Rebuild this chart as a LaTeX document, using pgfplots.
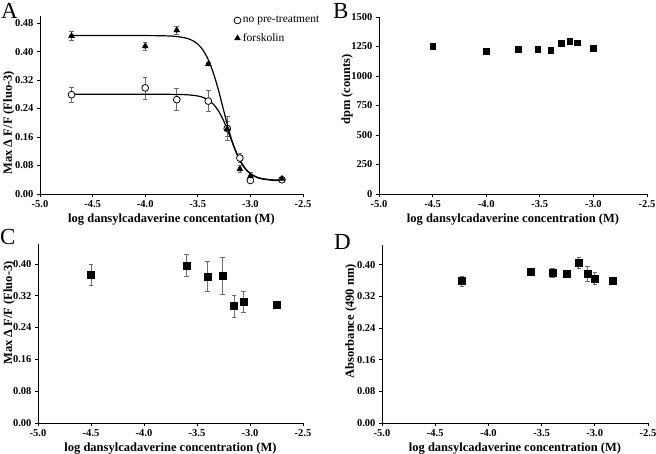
\documentclass[border=0pt]{standalone}
\usepackage{fontspec}
\setmainfont{Liberation Serif}
\usepackage{pgfplots}
\pgfplotsset{compat=1.18}
\definecolor{ebar}{RGB}{110,110,110}
\pgfplotsset{
  panel/.style={
    scale only axis,
    axis lines=left,
    axis line style={-, line width=0.9pt},
    tick align=outside,
    major tick length=3pt,
    tick style={black, line width=0.7pt},
    xmin=-5, xmax=-2.5, ymin=0,
    xtick={-5,-4.5,-4,-3.5,-3,-2.5},
    clip=false,
    /pgf/number format/assume math mode=true,
    tick label style={font=\fontsize{10.5}{12}\selectfont\bfseries},
    xticklabel style={/pgf/number format/fixed, /pgf/number format/fixed zerofill, /pgf/number format/precision=1},
    label style={font=\fontsize{12.5}{14}\selectfont\bfseries},
    xlabel={log dansylcadaverine concentration (M)},
    xlabel style={yshift=1pt},
  },
  frac/.style={
    yticklabel style={/pgf/number format/fixed, /pgf/number format/fixed zerofill, /pgf/number format/precision=2},
  },
  ebars/.style={only marks, mark=none, forget plot,
    error bars/.cd, y dir=both, y explicit,
    error bar style={ebar, line width=0.7pt},
    error mark options={ebar, rotate=90, mark size=2.3pt, line width=0.7pt}},
  sq/.style={only marks, mark=square*, mark size=3.5pt, mark options={fill=black, draw=black}},
}
\begin{document}
\begin{tikzpicture}
\useasboundingbox (0pt,0pt) rectangle (656pt,453pt);
% ---------------- A
\begin{axis}[panel, frac, at={(40pt,259pt)}, anchor=south west, width=263pt, height=178pt,
  ymax=0.5, ytick={0,0.08,0.16,0.24,0.32,0.40,0.48},
  xlabel={log dansylcadaverine concentation (M)},
  ylabel={Max Δ F/F (Fluo-3)},
  ylabel style={at={(axis description cs:-0.118,0.40)}, anchor=center},
  legend style={at={(1.07,1.01)}, anchor=north east, draw=none, fill=none,
    font=\fontsize{11.5}{13}\selectfont, row sep=5pt, inner sep=0pt},
  legend cell align=left]
\addplot[ebars] coordinates {
 (-4.7,0.279) +- (0,0.021) (-4.0,0.298) +- (0,0.031) (-3.7,0.265) +- (0,0.031)
 (-3.4,0.261) +- (0,0.029) (-3.22,0.184) +- (0,0.033) (-3.1,0.101) +- (0,0.012)
 (-3.0,0.038) +- (0,0.006) (-2.7,0.040) +- (0,0.003)};
\addplot[ebars] coordinates {
 (-4.7,0.444) +- (0,0.013) (-4.0,0.415) +- (0,0.011) (-3.7,0.460) +- (0,0.011)
 (-3.4,0.365) +- (0,0.004) (-3.22,0.183) +- (0,0.022) (-3.1,0.070) +- (0,0.010)
 (-3.0,0.050) +- (0,0.010) (-2.7,0.043) +- (0,0.003)};
\addplot[black, line width=1.2pt, smooth, forget plot] coordinates {
 (-4.7,0.280) (-4.0,0.280) (-3.8,0.280) (-3.7,0.2796) (-3.6,0.2787) (-3.5,0.2753)
 (-3.45,0.2713) (-3.4,0.2641) (-3.35,0.2517) (-3.3,0.2317) (-3.25,0.2026) (-3.2,0.1662)
 (-3.15,0.1284) (-3.1,0.0959) (-3.05,0.0723) (-3.0,0.0571) (-2.95,0.0481) (-2.9,0.043)
 (-2.8,0.0387) (-2.7,0.0375)};
\addplot[black, line width=1.2pt, smooth, forget plot] coordinates {
 (-4.7,0.445) (-4.0,0.445) (-3.8,0.4442) (-3.7,0.4425) (-3.6,0.437) (-3.55,0.431)
 (-3.5,0.421) (-3.45,0.404) (-3.4,0.377) (-3.35,0.338) (-3.3,0.288) (-3.25,0.230)
 (-3.2,0.174) (-3.15,0.1275) (-3.1,0.094) (-3.05,0.071) (-3.0,0.057) (-2.95,0.049)
 (-2.9,0.044) (-2.8,0.040) (-2.7,0.0386)};
\addplot[only marks, mark=*, mark size=3.4pt, mark options={fill=white, draw=black, line width=0.8pt}] coordinates {
 (-4.7,0.279) (-4.0,0.298) (-3.7,0.265) (-3.4,0.261) (-3.22,0.184) (-3.1,0.101) (-3.0,0.038) (-2.7,0.040)};
\addlegendentry{no pre-treatment}
\addplot[only marks, mark=triangle*, mark size=3.4pt, mark options={fill=black, draw=black}] coordinates {
 (-4.7,0.444) (-4.0,0.415) (-3.7,0.460) (-3.4,0.365) (-3.22,0.183) (-3.1,0.070) (-3.0,0.050) (-2.7,0.043)};
\addlegendentry{forskolin}
\end{axis}
% ---------------- B
\begin{axis}[panel, at={(379pt,259pt)}, anchor=south west, width=268pt, height=177pt,
  ymax=1500, ytick={0,250,500,750,1000,1250,1500},
  yticklabel style={/pgf/number format/set thousands separator={}},
  ylabel={dpm (counts)},
  ylabel style={at={(axis description cs:-0.119,0.59)}, anchor=center}]
\addplot[ebars] coordinates {
 (-4.5,1254) +- (0,8) (-4.0,1208) +- (0,8) (-3.7,1228) +- (0,25) (-3.52,1226) +- (0,8)
 (-3.4,1220) +- (0,20) (-3.3,1277) +- (0,8) (-3.22,1297) +- (0,8) (-3.15,1283) +- (0,8) (-3.0,1236) +- (0,22)};
\addplot[sq, mark size=2.8pt] coordinates {
 (-4.5,1254) (-4.0,1208) (-3.7,1228) (-3.52,1226) (-3.4,1220) (-3.3,1277) (-3.22,1297) (-3.15,1283) (-3.0,1236)};
\end{axis}
% ---------------- C
\begin{axis}[panel, frac, at={(38pt,30pt)}, anchor=south west, width=265pt, height=179pt,
  ymax=0.45, ytick={0,0.08,0.16,0.24,0.32,0.40},
  ylabel={Max Δ F/F (Fluo-3)},
  ylabel style={at={(axis description cs:-0.109,0.615)}, anchor=center}]
\addplot[ebars] coordinates {
 (-4.5,0.372) +- (0,0.027) (-3.6,0.396) +- (0,0.028) (-3.4,0.368) +- (0,0.038)
 (-3.26,0.370) +- (0,0.047) (-3.15,0.294) +- (0,0.028) (-3.06,0.305) +- (0,0.027) (-2.75,0.297) +- (0,0.008)};
\addplot[sq] coordinates {
 (-4.5,0.372) (-3.6,0.396) (-3.4,0.368) (-3.26,0.370) (-3.15,0.294) (-3.06,0.305) (-2.75,0.297)};
\end{axis}
% ---------------- D
\begin{axis}[panel, frac, at={(382pt,30pt)}, anchor=south west, width=266pt, height=178pt,
  ymax=0.45, ytick={0,0.08,0.16,0.24,0.32,0.40},
  ylabel={Absorbance (490 nm)},
  ylabel style={at={(axis description cs:-0.117,0.57)}, anchor=center}]
\addplot[ebars] coordinates {
 (-4.25,0.359) +- (0,0.013) (-3.6,0.382) +- (0,0.005) (-3.4,0.380) +- (0,0.012) (-3.26,0.377) +- (0,0.010)
 (-3.15,0.405) +- (0,0.015) (-3.07,0.377) +- (0,0.020) (-3.0,0.365) +- (0,0.015) (-2.83,0.359) +- (0,0.005)};
\addplot[sq] coordinates {
 (-4.25,0.359) (-3.6,0.382) (-3.4,0.380) (-3.26,0.377) (-3.15,0.405) (-3.07,0.377) (-3.0,0.365) (-2.83,0.359)};
\end{axis}
% panel letters
\node[anchor=base west, inner sep=0pt, font=\fontsize{23}{23}\selectfont] at (1pt,434pt) {A};
\node[anchor=base west, inner sep=0pt, font=\fontsize{23}{23}\selectfont] at (333pt,434pt) {B};
\node[anchor=base west, inner sep=0pt, font=\fontsize{23}{23}\selectfont] at (0pt,208pt) {C};
\node[anchor=base west, inner sep=0pt, font=\fontsize{23}{23}\selectfont] at (334pt,203pt) {D};
\end{tikzpicture}
\end{document}
